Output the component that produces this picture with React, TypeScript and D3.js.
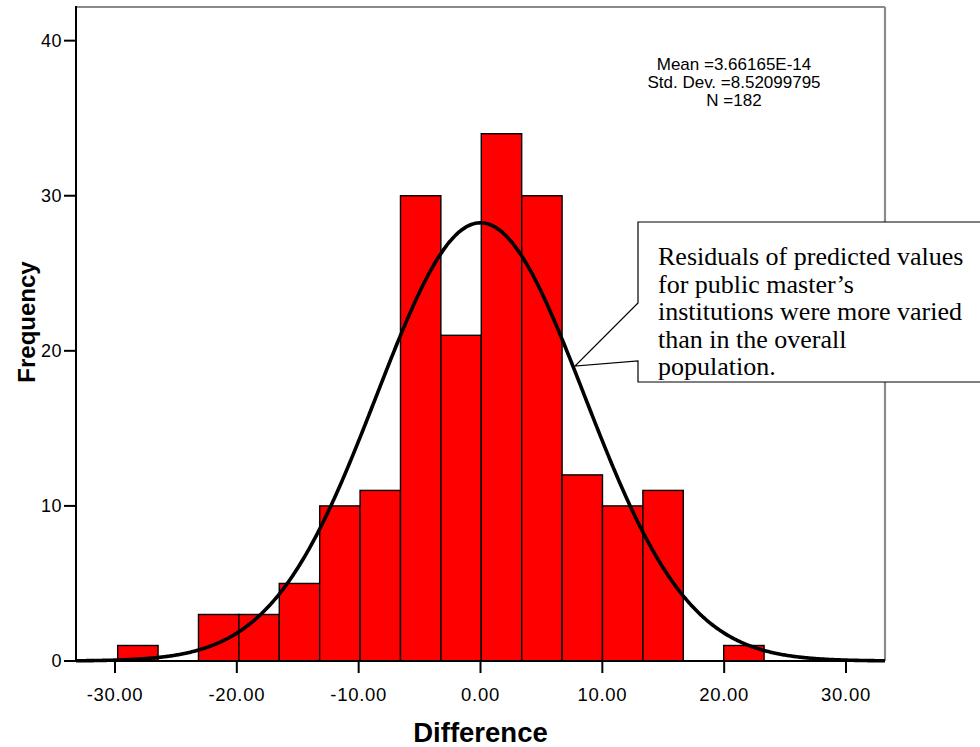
import React from "react";
import * as d3 from "d3";

// ---- Data ----
const binStart = -29.78;
const binWidth = 3.316;
const binCounts = [1, 0, 3, 3, 5, 10, 11, 30, 21, 34, 30, 12, 10, 11, 0, 1];
const xTicks = [-30, -20, -10, 0, 10, 20, 30];
const yTicks = [0, 10, 20, 30, 40];
const statMean = 3.66165e-14;
const statSD = 8.52099795;
const statN = 182;
const statLines = ["Mean =3.66165E-14", "Std. Dev. =8.52099795", "N =182"];
const noteLines = [
  "Residuals of predicted values",
  "for public master\u2019s",
  "institutions were more varied",
  "than in the overall",
  "population.",
];
const xTitle = "Difference";
const yTitle = "Frequency";

const W = 980;
const H = 747;
const left = 76;
const right = 885;
const top = 7;
const bottom = 661;

export default function App() {
  const x = d3.scaleLinear().domain([-33.2, 33.2]).range([left, right]);
  const y = d3.scaleLinear().domain([0, 42.17]).range([bottom, top]);

  const bins = binCounts.map((c, i) => ({
    x0: binStart + i * binWidth,
    x1: binStart + (i + 1) * binWidth,
    c,
  }));

  const pdf = (v: number) =>
    (statN * binWidth * Math.exp(-0.5 * ((v - statMean) / statSD) ** 2)) /
    (statSD * Math.sqrt(2 * Math.PI));
  const curvePts = d3.range(-33.2, 33.25, 0.1).map((v) => [v, pdf(v)] as [number, number]);
  const line = d3
    .line<[number, number]>()
    .x((d) => x(d[0]))
    .y((d) => y(d[1]))
    .curve(d3.curveBasis);

  const sans = "'Liberation Sans', Arial, sans-serif";
  const serif = "'Liberation Serif', 'Times New Roman', serif";

  // callout box geometry
  const bx0 = 638, by0 = 222, bx1 = 995, by1 = 382;
  const callout = `M${bx0},${by0} L${bx1},${by0} L${bx1},${by1} L${bx0},${by1} L${bx0},361 L575,366 L${bx0},303 Z`;

  return (
    <svg
      width={W}
      height={H}
      style={{ position: "absolute", left: 0, top: 0, background: "#fff" }}
      xmlns="http://www.w3.org/2000/svg"
    >
      <rect x={0} y={0} width={W} height={H} fill="#fff" />
      {/* frame */}
      <line x1={left} x2={right} y1={top} y2={top} stroke="#8a8a8a" strokeWidth={2.2} />
      <line x1={right} x2={right} y1={top} y2={bottom} stroke="#8a8a8a" strokeWidth={2.2} />

      {/* bars */}
      {bins
        .filter((b) => b.c > 0)
        .map((b, i) => (
          <rect
            key={i}
            x={x(b.x0)}
            y={y(b.c)}
            width={x(b.x1) - x(b.x0)}
            height={y(0) - y(b.c)}
            fill="#ff0000"
            stroke="#000"
            strokeWidth={1.4}
          />
        ))}

      {/* normal curve */}
      <path d={line(curvePts) || ""} fill="none" stroke="#000" strokeWidth={3.6} />

      {/* axes */}
      <line x1={left} x2={left} y1={top - 1} y2={bottom} stroke="#000" strokeWidth={2} />
      <line x1={left - 12} x2={right} y1={bottom} y2={bottom} stroke="#000" strokeWidth={2} />
      {yTicks.map((t) => (
        <g key={"y" + t}>
          <line x1={left - 12} x2={left} y1={y(t)} y2={y(t)} stroke="#000" strokeWidth={2} />
          <text
            x={left - 14}
            y={y(t)}
            dy="0.35em"
            textAnchor="end"
            fontFamily={sans}
            fontSize={18}
            letterSpacing={0.5}
            fill="#000"
          >
            {t}
          </text>
        </g>
      ))}
      {xTicks.map((t) => (
        <g key={"x" + t}>
          <line x1={x(t)} x2={x(t)} y1={bottom} y2={bottom + 12} stroke="#000" strokeWidth={2} />
          <text
            x={x(t)}
            y={bottom + 40}
            textAnchor="middle"
            fontFamily={sans}
            fontSize={18.5}
            letterSpacing={0.7}
            fill="#000"
          >
            {t.toFixed(2)}
          </text>
        </g>
      ))}

      {/* axis titles */}
      <text
        x={x(0)}
        y={742}
        textAnchor="middle"
        fontFamily={sans}
        fontWeight="bold"
        fontSize={27.5}
        fill="#000"
      >
        {xTitle}
      </text>
      <text
        transform={`translate(35,${322}) rotate(-90)`}
        textAnchor="middle"
        fontFamily={sans}
        fontWeight="bold"
        fontSize={24}
        fill="#000"
      >
        {yTitle}
      </text>

      {/* stats */}
      {statLines.map((s, i) => (
        <text
          key={s}
          x={734}
          y={70 + i * 18}
          textAnchor="middle"
          fontFamily={sans}
          fontSize={17}
          fill="#000"
        >
          {s}
        </text>
      ))}

      {/* callout */}
      <path d={callout} fill="#fff" stroke="#000" strokeWidth={1.2} />
      {noteLines.map((s, i) => (
        <text key={s} x={658} y={265 + i * 27.5} fontFamily={serif} fontSize={26} fill="#000">
          {s}
        </text>
      ))}
    </svg>
  );
}
